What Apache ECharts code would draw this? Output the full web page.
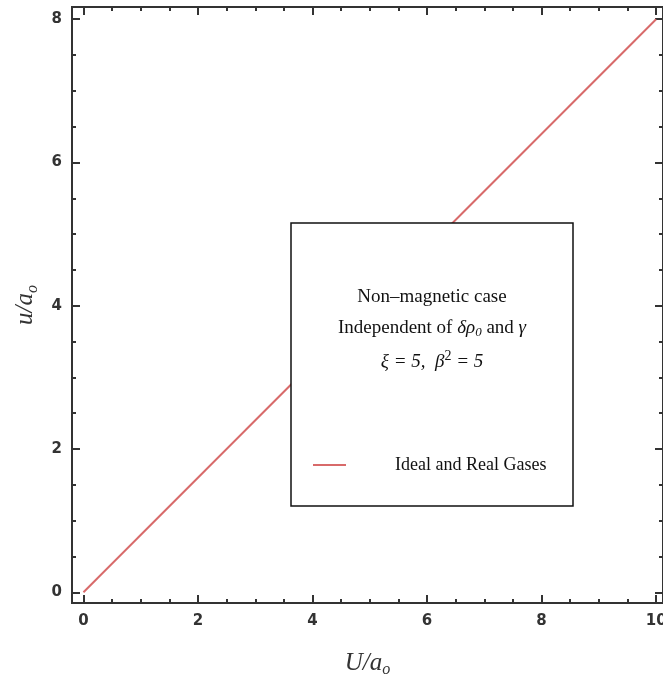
<!DOCTYPE html>
<html>
<head>
<meta charset="utf-8">
<script src="https://cdn.jsdelivr.net/npm/echarts@6/dist/echarts.min.js"></script>
<style>html,body{margin:0;padding:0;background:#fff}#c{width:663px;height:681px}</style>
</head>
<body>
<div id="c"></div>
<script>
// Data
const seriesName = 'Ideal and Real Gases';
const xValues = [0, 10];
const yValues = [0, 8];
const xMajorTicks = [0, 2, 4, 6, 8, 10];
const xMinorTicks = [0.5, 1, 1.5, 2.5, 3, 3.5, 4.5, 5, 5.5, 6.5, 7, 7.5, 8.5, 9, 9.5];
const yMajorTicks = [0, 2, 4, 6, 8];
const yMinorTicks = [0.5, 1, 1.5, 2.5, 3, 3.5, 4.5, 5, 5.5, 6.5, 7, 7.5];
const noteLines = [
  'Non\u2013magnetic case',
  'Independent of {i|\u03b4\u03c1}{sub|0} and {i|\u03b3}',
  '{i|\u03be = 5,  \u03b2}{sup|2}{i| = 5}'
];

const XMIN = -0.2, XMAX = 10.12, YMIN = -0.15, YMAX = 8.17;
const axisColor = '#333';
const labelStyle = {fontFamily: 'DejaVu Sans', fontSize: 15, fontWeight: 'bold', color: '#333'};
const nameRich = {
  a: {fontFamily: 'Liberation Serif', fontStyle: 'italic', fontSize: 25, color: '#333', lineHeight: 30},
  b: {fontFamily: 'Liberation Serif', fontStyle: 'italic', fontSize: 16, color: '#333', lineHeight: 30, verticalAlign: 'bottom', padding: [8, 0, 0, 0]}
};

function mkX(pos, ticks, len, withLabel, withName) {
  return {
    type: 'value', position: pos, min: XMIN, max: XMAX,
    axisLine: {show: true, onZero: false, lineStyle: {color: axisColor, width: 2}},
    axisTick: {show: true, inside: true, length: len, customValues: ticks, lineStyle: {color: axisColor, width: 2}},
    axisLabel: withLabel ? Object.assign({show: true, customValues: ticks, margin: 11}, labelStyle) : {show: false},
    splitLine: {show: false},
    name: withName ? '{a|U/a}{b|o}' : '',
    nameLocation: 'middle', nameGap: 45,
    nameTextStyle: {rich: nameRich}
  };
}
function mkY(pos, ticks, len, withLabel, withName) {
  return {
    type: 'value', position: pos, min: YMIN, max: YMAX,
    axisLine: {show: true, onZero: false, lineStyle: {color: axisColor, width: 2}},
    axisTick: {show: true, inside: true, length: len, customValues: ticks, lineStyle: {color: axisColor, width: 2}},
    axisLabel: withLabel ? Object.assign({show: true, customValues: ticks, margin: 10}, labelStyle) : {show: false},
    splitLine: {show: false},
    name: withName ? '{a|u/a}{b|o}' : '',
    nameLocation: 'middle', nameGap: 28,
    nameTextStyle: {rich: nameRich}
  };
}

const chart = echarts.init(document.getElementById('c'), null, {renderer: 'canvas'});
const serifRich = {
  i: {fontFamily: 'Liberation Serif', fontStyle: 'italic', fontSize: 19, fill: '#111'},
  sub: {fontFamily: 'Liberation Serif', fontStyle: 'italic', fontSize: 13, fill: '#111', verticalAlign: 'bottom', padding: [9, 0, 0, 0]},
  sup: {fontFamily: 'Liberation Serif', fontSize: 14, fill: '#111', verticalAlign: 'top', padding: [0, 0, 11, 0]}
};
const noteY = [297, 328, 362];
chart.setOption({
  animation: false,
  grid: {left: 72, right: 0, top: 7, bottom: 78, containLabel: false, outerBoundsMode: 'none'},
  xAxis: [
    mkX('bottom', xMajorTicks, 8, true, true),
    mkX('bottom', xMinorTicks, 4, false, false),
    mkX('top', xMajorTicks, 8, false, false),
    mkX('top', xMinorTicks, 4, false, false)
  ],
  yAxis: [
    mkY('left', yMajorTicks, 8, true, true),
    mkY('left', yMinorTicks, 4, false, false),
    mkY('right', yMajorTicks, 8, false, false),
    mkY('right', yMinorTicks, 4, false, false)
  ],
  legend: {
    show: true, left: 308, top: 451, orient: 'vertical',
    icon: 'rect', itemWidth: 33, itemHeight: 2, z: 10,
    textStyle: {fontFamily: 'Liberation Serif', fontSize: 18, color: '#111', padding: [0, 0, 0, 44]},
    data: [seriesName]
  },
  graphic: [
    {type: 'rect', z: 3, shape: {x: 291, y: 223, width: 282, height: 283},
     style: {fill: '#fff', stroke: '#111', lineWidth: 1.5}}
  ].concat(noteLines.map((t, k) => ({
    type: 'text', z: 5, x: 432, y: noteY[k],
    style: {text: t, textAlign: 'center', textVerticalAlign: 'middle',
      font: '19px "Liberation Serif"', fill: '#111', rich: serifRich}
  }))),
  series: [{
    name: seriesName, type: 'line', xAxisIndex: 0, yAxisIndex: 0,
    symbol: 'none', showSymbol: false, z: 2,
    lineStyle: {color: '#d86a6a', width: 2},
    itemStyle: {color: '#d86a6a'},
    data: xValues.map((x, i) => [x, yValues[i]])
  }]
});
</script>
</body>
</html>
